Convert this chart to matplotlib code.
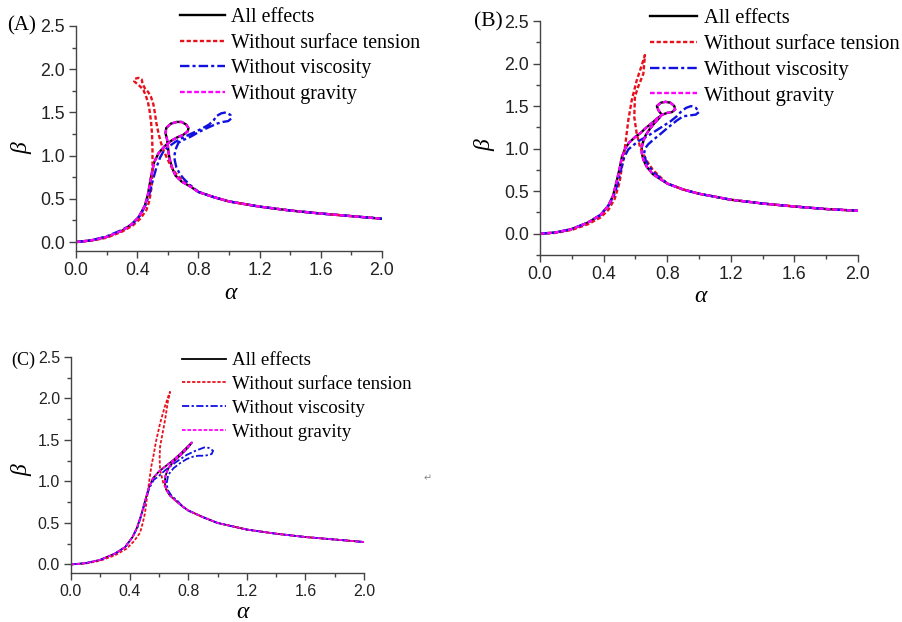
import numpy as np
import matplotlib
matplotlib.use("Agg")
import matplotlib.pyplot as plt
from matplotlib.ticker import MultipleLocator

# ---- data (alpha, beta) ----
labels = ["All effects", "Without surface tension", "Without viscosity", "Without gravity"]

# common decaying tails per panel
A_TAIL_ALPHA = [0.8, 0.9, 1.0, 1.2, 1.4, 1.6, 1.8, 2.0]
A_TAIL_BETA = [0.58, 0.52, 0.47, 0.41, 0.365, 0.33, 0.30, 0.27]
B_TAIL_ALPHA = [0.8, 0.9, 1.0, 1.2, 1.4, 1.6, 1.8, 2.0]
B_TAIL_BETA = [0.59, 0.52, 0.47, 0.40, 0.355, 0.32, 0.29, 0.27]
C_TAIL_ALPHA = [0.8, 0.9, 1.0, 1.2, 1.4, 1.6, 1.8, 2.0]
C_TAIL_BETA = [0.65, 0.57, 0.50, 0.42, 0.37, 0.33, 0.30, 0.27]

# panel A
A_ALL_ALPHA = [0, 0.1, 0.2, 0.3, 0.36, 0.41, 0.45, 0.47, 0.49, 0.51, 0.54, 0.58, 0.62, 0.66, 0.70, 0.73,
               0.735, 0.72, 0.69, 0.66, 0.62, 0.59, 0.585, 0.595,
               0.60, 0.605, 0.615, 0.63, 0.65, 0.69, 0.75]
A_ALL_BETA = [0, 0.02, 0.06, 0.13, 0.2, 0.29, 0.42, 0.55, 0.75, 0.92, 1.03, 1.11, 1.17, 1.21, 1.24, 1.28,
              1.32, 1.36, 1.39, 1.39, 1.37, 1.32, 1.26, 1.19,
              1.12, 1.03, 0.94, 0.85, 0.77, 0.70, 0.64]
A_ST_ALPHA = [0, 0.1, 0.2, 0.3, 0.37, 0.42, 0.46, 0.48, 0.495, 0.50, 0.50, 0.497, 0.49, 0.48, 0.47, 0.455,
              0.44, 0.42, 0.40, 0.38, 0.385, 0.41, 0.43, 0.435, 0.45, 0.47, 0.49, 0.505, 0.515, 0.525,
              0.54, 0.555, 0.575, 0.595, 0.62, 0.65, 0.69, 0.75]
A_ST_BETA = [0, 0.015, 0.05, 0.12, 0.19, 0.27, 0.37, 0.48, 0.65, 0.85, 1.05, 1.25, 1.4, 1.53, 1.62, 1.7,
             1.76, 1.80, 1.83, 1.86, 1.89, 1.90, 1.88, 1.83, 1.78, 1.74, 1.68, 1.60, 1.50, 1.38,
             1.25, 1.15, 1.05, 0.97, 0.88, 0.80, 0.72, 0.65]
A_VIS_ALPHA = [0, 0.1, 0.2, 0.3, 0.37, 0.42, 0.455, 0.48, 0.50, 0.525, 0.55, 0.575, 0.61, 0.65, 0.70, 0.76,
               0.82, 0.87, 0.90, 0.92, 0.95, 0.98, 1.01, 1.015, 0.995, 0.96, 0.92, 0.87, 0.81, 0.75,
               0.70, 0.67, 0.655, 0.645, 0.645, 0.655, 0.675, 0.70, 0.745]
A_VIS_BETA = [0, 0.02, 0.065, 0.14, 0.21, 0.31, 0.43, 0.56, 0.70, 0.86, 0.98, 1.06, 1.11, 1.16, 1.21, 1.26,
              1.31, 1.36, 1.41, 1.46, 1.49, 1.50, 1.47, 1.43, 1.40, 1.39, 1.37, 1.33, 1.28, 1.22,
              1.18, 1.15, 1.09, 1.02, 0.95, 0.87, 0.80, 0.74, 0.66]
# without gravity coincides with all effects in the picture
A_GRAV_ALPHA = A_ALL_ALPHA
A_GRAV_BETA = A_ALL_BETA

# panel B
B_ALL_ALPHA = [0, 0.1, 0.2, 0.3, 0.38, 0.43, 0.46, 0.48, 0.50, 0.515, 0.535, 0.56, 0.60, 0.63, 0.67, 0.71,
               0.74, 0.77, 0.80, 0.83, 0.85, 0.845, 0.82, 0.79, 0.76, 0.735, 0.745, 0.765,
               0.75, 0.72, 0.69, 0.665, 0.65, 0.64, 0.64, 0.65, 0.67, 0.71, 0.75]
B_ALL_BETA = [0, 0.015, 0.055, 0.13, 0.22, 0.33, 0.45, 0.6, 0.76, 0.90, 1.0, 1.07, 1.14, 1.18, 1.25, 1.31,
              1.36, 1.40, 1.42, 1.43, 1.46, 1.50, 1.54, 1.55, 1.54, 1.50, 1.45, 1.40,
              1.36, 1.30, 1.23, 1.16, 1.09, 1.02, 0.95, 0.87, 0.79, 0.70, 0.65]
B_ST_ALPHA = [0, 0.1, 0.2, 0.3, 0.38, 0.43, 0.47, 0.50, 0.515, 0.53, 0.54, 0.555, 0.577, 0.608, 0.64, 0.66,
              0.65, 0.618, 0.597, 0.593, 0.608, 0.629, 0.67, 0.71, 0.76]
B_ST_BETA = [0, 0.01, 0.045, 0.11, 0.19, 0.28, 0.41, 0.60, 0.78, 0.95, 1.10, 1.33, 1.57, 1.80, 1.98, 2.10,
             1.88, 1.73, 1.61, 1.37, 1.18, 1.02, 0.86, 0.75, 0.66]
B_VIS_ALPHA = [0, 0.1, 0.2, 0.3, 0.38, 0.43, 0.465, 0.49, 0.51, 0.53, 0.555, 0.58, 0.62, 0.67, 0.72, 0.77,
               0.82, 0.86, 0.89, 0.92, 0.95, 0.98, 1.0, 0.98, 0.94, 0.90, 0.86, 0.80, 0.75, 0.71,
               0.68, 0.66, 0.655, 0.665, 0.69, 0.72, 0.76]
B_VIS_BETA = [0, 0.015, 0.055, 0.13, 0.22, 0.33, 0.45, 0.6, 0.76, 0.9, 0.99, 1.03, 1.09, 1.14, 1.20, 1.26,
              1.32, 1.38, 1.44, 1.48, 1.50, 1.48, 1.43, 1.40, 1.39, 1.38, 1.33, 1.24, 1.16, 1.10,
              1.05, 1.0, 0.94, 0.86, 0.78, 0.71, 0.65]
B_GRAV_ALPHA = B_ALL_ALPHA
B_GRAV_BETA = B_ALL_BETA

# panel C
C_ALL_ALPHA = [0, 0.1, 0.2, 0.3, 0.37, 0.42, 0.45, 0.48, 0.505, 0.53, 0.56, 0.60, 0.65, 0.70, 0.75, 0.79,
               0.825, 0.80, 0.75, 0.70, 0.665, 0.645, 0.64, 0.65, 0.675, 0.72, 0.76]
C_ALL_BETA = [0, 0.015, 0.055, 0.13, 0.21, 0.33, 0.44, 0.60, 0.76, 0.92, 1.04, 1.12, 1.19, 1.26, 1.34, 1.41,
              1.47, 1.41, 1.32, 1.24, 1.16, 1.07, 0.98, 0.90, 0.83, 0.76, 0.70]
C_ST_ALPHA = [0, 0.1, 0.2, 0.3, 0.38, 0.43, 0.471, 0.49, 0.505, 0.52, 0.535, 0.55, 0.562, 0.58, 0.608, 0.64,
              0.665, 0.676, 0.66, 0.642, 0.625, 0.608, 0.605, 0.608, 0.63, 0.66, 0.70, 0.75]
C_ST_BETA = [0, 0.01, 0.045, 0.11, 0.19, 0.28, 0.38, 0.5, 0.62, 0.82, 1.02, 1.2, 1.30, 1.48, 1.70, 1.90,
             2.03, 2.08, 1.95, 1.74, 1.58, 1.42, 1.28, 1.14, 0.98, 0.88, 0.79, 0.72]
C_VIS_ALPHA = [0, 0.1, 0.2, 0.3, 0.37, 0.42, 0.455, 0.485, 0.51, 0.535, 0.565, 0.596, 0.64, 0.676, 0.73, 0.79,
               0.85, 0.88, 0.91, 0.94, 0.97, 0.96, 0.915, 0.87, 0.835, 0.79, 0.744, 0.70, 0.664, 0.653,
               0.66, 0.685, 0.73, 0.76]
C_VIS_BETA = [0, 0.015, 0.055, 0.13, 0.21, 0.33, 0.45, 0.62, 0.78, 0.92, 1.02, 1.06, 1.13, 1.18, 1.25, 1.32,
              1.37, 1.39, 1.41, 1.405, 1.37, 1.33, 1.31, 1.31, 1.30, 1.27, 1.22, 1.16, 1.08, 0.98,
              0.90, 0.83, 0.76, 0.70]
C_GRAV_ALPHA = C_ALL_ALPHA
C_GRAV_BETA = C_ALL_BETA

SERIF = "Liberation Serif"
SANS = "Liberation Sans"


def draw_panel(rect, ylo, series, tail, lw, tick_fs, leg_fs, leg_anchor, leg_handle, leg_sep, leg_space,
               name, name_xy, name_fs, alab_xy, blab_xy):
    ax = fig.add_axes(rect)
    tx, ty = tail
    styles = [dict(color="black", ls="-"),
              dict(color="#e8101a", dashes=(1.8, 1.0)),
              dict(color="#1010e0", dashes=(4.0, 1.3, 1.3, 1.3)),
              dict(color="#ff00ff", dashes=(2.0, 1.0))]
    for (xs, ys), lab, st in zip(series, labels, styles):
        x = np.concatenate([xs, tx])
        y = np.concatenate([ys, ty])
        ax.plot(x, y, lw=lw, label=lab, **st)
    ax.set_xlim(0, 2.0)
    ax.set_ylim(ylo, 2.5)
    ax.xaxis.set_major_locator(MultipleLocator(0.4))
    ax.xaxis.set_minor_locator(MultipleLocator(0.2))
    ax.yaxis.set_major_locator(MultipleLocator(0.5))
    ax.yaxis.set_minor_locator(MultipleLocator(0.25))
    ax.xaxis.set_major_formatter(plt.FormatStrFormatter("%.1f"))
    ax.yaxis.set_major_formatter(plt.FormatStrFormatter("%.1f"))
    for s in ["top", "right"]:
        ax.spines[s].set_visible(False)
    for s in ["left", "bottom"]:
        ax.spines[s].set_color("#444444")
        ax.spines[s].set_linewidth(1.0)
    ax.tick_params(which="major", direction="out", length=5, width=1, color="#444444",
                   labelsize=tick_fs, pad=3, labelcolor="#222222")
    ax.tick_params(which="minor", direction="out", length=3, width=1, color="#444444")
    for t in ax.get_xticklabels() + ax.get_yticklabels():
        t.set_fontfamily(SANS)
    ax.legend(loc="upper left", bbox_to_anchor=leg_anchor, bbox_transform=fig.transFigure,
              frameon=False, borderpad=0, borderaxespad=0, handlelength=leg_handle,
              handletextpad=leg_sep, labelspacing=leg_space,
              prop=dict(family=SERIF, size=leg_fs))
    fig.text(name_xy[0] / W, 1 - name_xy[1] / H, name, family=SERIF, fontsize=name_fs,
             va="center", ha="left")
    fig.text(alab_xy[0] / W, 1 - alab_xy[1] / H, "α", family=SERIF, style="italic",
             fontsize=17, ha="center", va="center")
    fig.text(blab_xy[0] / W, 1 - blab_xy[1] / H, "β", family=SERIF, style="italic",
             fontsize=17, ha="center", va="center", rotation=90)
    return ax


W, H = 902, 622
fig = plt.figure(figsize=(W / 100, H / 100), dpi=100)

draw_panel([76 / W, 1 - 250.7 / H, 306 / W, 224.7 / H], -0.1,
           [(A_ALL_ALPHA, A_ALL_BETA), (A_ST_ALPHA, A_ST_BETA), (A_VIS_ALPHA, A_VIS_BETA),
            (A_GRAV_ALPHA, A_GRAV_BETA)],
           (A_TAIL_ALPHA, A_TAIL_BETA), 1.7, 12.8, 14.3, (180 / W, 1 - 8 / H), 2.26, 0.33, 0.33,
           "(A)", (7, 26), 15, (230, 293), (22, 148))

draw_panel([540 / W, 1 - 255 / H, 318 / W, 234 / H], -0.25,
           [(B_ALL_ALPHA, B_ALL_BETA), (B_ST_ALPHA, B_ST_BETA), (B_VIS_ALPHA, B_VIS_BETA),
            (B_GRAV_ALPHA, B_GRAV_BETA)],
           (B_TAIL_ALPHA, B_TAIL_BETA), 1.7, 12.8, 14.9, (650 / W, 1 - 9 / H), 2.27, 0.33, 0.3,
           "(B)", (474, 22), 15.5, (700, 296), (485, 145))

draw_panel([71 / W, 1 - 572.7 / H, 293 / W, 215.7 / H], -0.1,
           [(C_ALL_ALPHA, C_ALL_BETA), (C_ST_ALPHA, C_ST_BETA), (C_VIS_ALPHA, C_VIS_BETA),
            (C_GRAV_ALPHA, C_GRAV_BETA)],
           (C_TAIL_ALPHA, C_TAIL_BETA), 1.3, 11.5, 13.6, (182 / W, 1 - 352 / H), 2.33, 0.33, 0.35,
           "(C)", (11, 360), 13, (242, 612), (22, 470))

fig.text(428 / W, 1 - 478 / H, "↵", fontsize=7, color="#888888", ha="center", va="center",
         family="DejaVu Sans")

fig.savefig("out.png", dpi=100)
